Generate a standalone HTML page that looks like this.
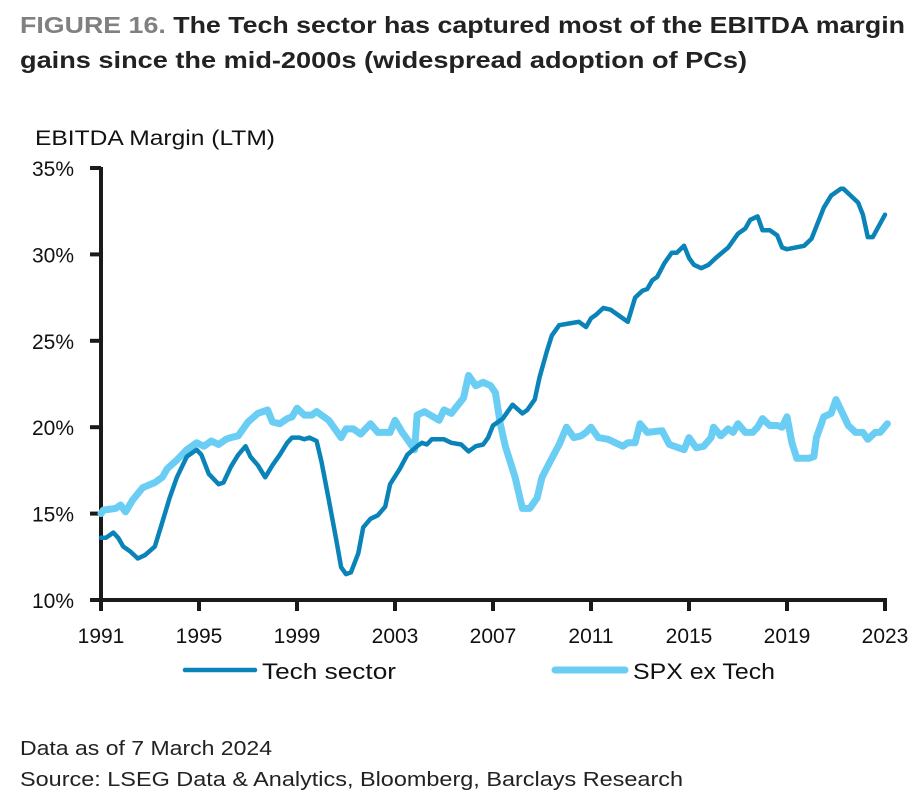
<!DOCTYPE html>
<html><head><meta charset="utf-8"><style>
html,body{margin:0;padding:0;background:#fff;}
svg{display:block;font-family:"Liberation Sans",sans-serif;}
</style></head><body>
<svg id="chart" width="919" height="800" viewBox="0 0 919 800">
<g>
<text x="20" y="33" font-size="23" font-weight="bold" fill="#222" textLength="885" lengthAdjust="spacingAndGlyphs"><tspan fill="#808080">FIGURE 16.</tspan> The Tech sector has captured most of the EBITDA margin</text>
<text x="20" y="68" font-size="23" font-weight="bold" fill="#222" textLength="727" lengthAdjust="spacingAndGlyphs">gains since the mid-2000s (widespread adoption of PCs)</text>
</g>
<text x="35" y="145" font-size="21" fill="#111" textLength="240" lengthAdjust="spacingAndGlyphs">EBITDA Margin (LTM)</text>
<g id="axes"></g>
<g id="series"></g>
<g>
<line x1="185" y1="670" x2="255" y2="670" stroke="#0a84b8" stroke-width="4.5" stroke-linecap="round"/>
<text x="262" y="679" font-size="22" fill="#111" textLength="134" lengthAdjust="spacingAndGlyphs">Tech sector</text>
<line x1="555" y1="670" x2="625" y2="670" stroke="#6acdf4" stroke-width="7" stroke-linecap="round"/>
<text x="633" y="679" font-size="22" fill="#111" textLength="142" lengthAdjust="spacingAndGlyphs">SPX ex Tech</text>
</g>
<text x="20" y="755" font-size="20" fill="#222" textLength="252" lengthAdjust="spacingAndGlyphs">Data as of 7 March 2024</text>
<text x="20" y="786" font-size="20" fill="#222" textLength="663" lengthAdjust="spacingAndGlyphs">Source: LSEG Data &amp; Analytics, Bloomberg, Barclays Research</text>
</svg>
<script>
const techYears=[1991.0,1991.2,1991.5,1991.7,1991.9,1992.2,1992.5,1992.8,1993.2,1993.5,1993.8,1994.1,1994.5,1994.9,1995.1,1995.4,1995.8,1996.0,1996.3,1996.6,1996.9,1997.1,1997.4,1997.7,1998.0,1998.3,1998.6,1998.8,1999.1,1999.3,1999.5,1999.8,2000.0,2000.3,2000.6,2000.8,2001.0,2001.2,2001.5,2001.7,2002.0,2002.3,2002.6,2002.8,2003.2,2003.5,2003.9,2004.1,2004.3,2004.5,2004.8,2005.0,2005.3,2005.7,2006.0,2006.3,2006.6,2006.8,2007.0,2007.4,2007.8,2008.2,2008.4,2008.7,2008.9,2009.2,2009.4,2009.7,2010.1,2010.5,2010.8,2011.0,2011.2,2011.5,2011.8,2012.2,2012.5,2012.8,2013.1,2013.3,2013.5,2013.7,2014.0,2014.3,2014.5,2014.8,2015.0,2015.2,2015.5,2015.8,2016.1,2016.6,2017.0,2017.3,2017.5,2017.8,2018.0,2018.3,2018.6,2018.8,2019.0,2019.7,2020.0,2020.5,2020.8,2021.2,2021.3,2021.6,2021.9,2022.1,2022.3,2022.5,2023.0];
const techValues=[13.6,13.6,13.9,13.6,13.1,12.8,12.4,12.6,13.1,14.5,15.9,17.1,18.3,18.7,18.4,17.3,16.7,16.8,17.7,18.4,18.9,18.3,17.8,17.1,17.8,18.4,19.1,19.4,19.4,19.3,19.4,19.2,18.0,15.8,13.5,11.9,11.5,11.6,12.7,14.2,14.7,14.9,15.4,16.7,17.6,18.4,18.9,19.1,19.0,19.3,19.3,19.3,19.1,19.0,18.6,18.9,19.0,19.4,20.1,20.5,21.3,20.8,21.0,21.6,22.9,24.4,25.3,25.9,26.0,26.1,25.8,26.3,26.5,26.9,26.8,26.4,26.1,27.5,27.9,28.0,28.5,28.7,29.5,30.1,30.1,30.5,29.8,29.4,29.2,29.4,29.8,30.4,31.2,31.5,32.0,32.2,31.4,31.4,31.1,30.4,30.3,30.5,30.9,32.7,33.4,33.8,33.8,33.4,33.0,32.3,31.0,31.0,32.3];
const spxYears=[1991.0,1991.1,1991.6,1991.8,1992.0,1992.3,1992.7,1993.2,1993.5,1993.7,1994.1,1994.5,1994.9,1995.2,1995.5,1995.8,1996.1,1996.3,1996.6,1997.0,1997.4,1997.8,1998.0,1998.3,1998.6,1998.8,1999.0,1999.3,1999.6,1999.8,2000.3,2000.8,2001.0,2001.3,2001.6,2002.0,2002.3,2002.5,2002.8,2003.0,2003.3,2003.5,2003.8,2003.9,2004.2,2004.8,2005.0,2005.3,2005.8,2006.0,2006.3,2006.6,2006.9,2007.1,2007.3,2007.5,2007.9,2008.2,2008.5,2008.8,2009.0,2009.4,2009.7,2010.0,2010.3,2010.6,2010.8,2011.0,2011.3,2011.7,2012.0,2012.3,2012.5,2012.8,2013.0,2013.3,2013.9,2014.2,2014.8,2015.0,2015.3,2015.6,2015.9,2016.0,2016.3,2016.6,2016.8,2017.0,2017.3,2017.6,2017.8,2018.0,2018.3,2018.6,2018.8,2019.0,2019.2,2019.4,2019.9,2020.1,2020.2,2020.5,2020.8,2021.0,2021.2,2021.5,2021.8,2022.1,2022.3,2022.6,2022.8,2023.1];
const spxValues=[15.0,15.2,15.3,15.5,15.1,15.8,16.5,16.8,17.1,17.6,18.1,18.7,19.1,18.9,19.2,19.0,19.3,19.4,19.5,20.3,20.8,21.0,20.3,20.2,20.5,20.6,21.1,20.7,20.7,20.9,20.4,19.4,19.9,19.9,19.6,20.2,19.7,19.7,19.7,20.4,19.7,19.3,18.7,20.7,20.9,20.4,21.0,20.8,21.7,23.0,22.4,22.6,22.4,22.0,20.2,18.9,17.1,15.3,15.3,15.9,17.1,18.2,19.0,20.0,19.4,19.5,19.7,20.0,19.4,19.3,19.1,18.9,19.1,19.1,20.2,19.7,19.8,19.0,18.7,19.4,18.8,18.9,19.4,20.0,19.5,19.9,19.7,20.2,19.7,19.7,20.0,20.5,20.1,20.1,20.0,20.6,19.1,18.2,18.2,18.3,19.4,20.6,20.8,21.6,21.0,20.1,19.7,19.7,19.3,19.7,19.7,20.2];
const yTicks=[10,15,20,25,30,35];
const yTickLabels=["10%","15%","20%","25%","30%","35%"];
const xTicks=[1991,1995,1999,2003,2007,2011,2015,2019,2023];
const xTickLabels=["1991","1995","1999","2003","2007","2011","2015","2019","2023"];

const NS="http://www.w3.org/2000/svg";
const X0=101,X1=885,Y0=600,Y1=168;
function xs(v){return X0+(v-1991)/(2023-1991)*(X1-X0);}
function ys(v){return Y0-(v-10)/(35-10)*(Y0-Y1);}
function mk(tag,attrs,parent){const e=document.createElementNS(NS,tag);for(const k in attrs)e.setAttribute(k,attrs[k]);parent.appendChild(e);return e;}
const axes=document.getElementById('axes');
const series=document.getElementById('series');
const ya=mk('line',{x1:X0,y1:Y1-1,x2:X0,y2:Y0+1,stroke:'#1a1a1a','stroke-width':4},axes);


const xa=mk('line',{x1:X0-2,y1:Y0,x2:X1+2,y2:Y0,stroke:'#1a1a1a','stroke-width':4},axes);


yTicks.forEach((t,i)=>{
  const tk=mk('line',{x1:X0-11,y1:ys(t),x2:X0,y2:ys(t),stroke:'#1a1a1a','stroke-width':4},axes);
  
  
  const lb=mk('text',{x:74,y:ys(t)+8,'font-size':21,fill:'#111','text-anchor':'end'},axes);
  lb.textContent=yTickLabels[i];
  
  
});
xTicks.forEach((t,i)=>{
  const tk=mk('line',{x1:xs(t),y1:Y0,x2:xs(t),y2:Y0+11,stroke:'#1a1a1a','stroke-width':4},axes);
  
  
  const lb=mk('text',{x:xs(t),y:643,'font-size':21,fill:'#111','text-anchor':'middle'},axes);
  lb.textContent=xTickLabels[i];
  
  
});
function path(xsArr,vs){return xsArr.map((x,i)=>(i?'L':'M')+xs(x).toFixed(1)+' '+ys(vs[i]).toFixed(1)).join(' ');}
const sp=mk('path',{d:path(spxYears,spxValues),fill:'none',stroke:'#6acdf4','stroke-width':7,'stroke-linejoin':'round','stroke-linecap':'round'},series);


const tp=mk('path',{d:path(techYears,techValues),fill:'none',stroke:'#0a84b8','stroke-width':4.5,'stroke-linejoin':'round','stroke-linecap':'round'},series);


</script>
</body></html>
